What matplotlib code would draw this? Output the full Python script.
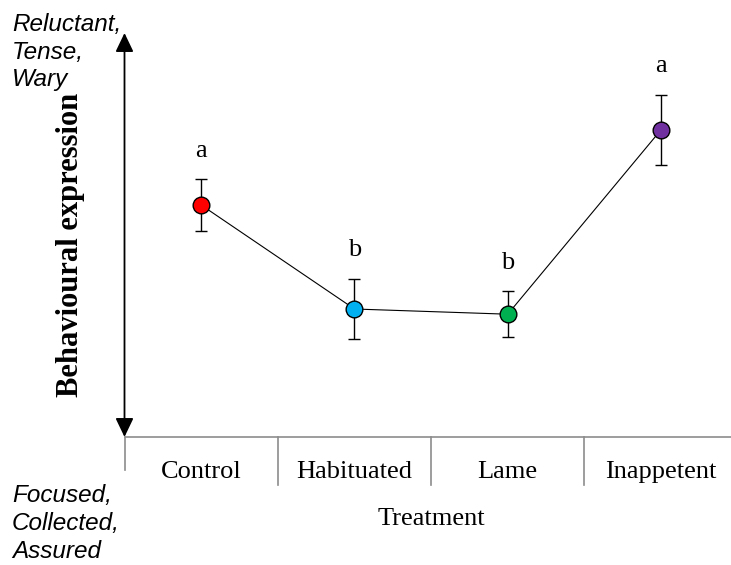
import matplotlib
matplotlib.use("Agg")
import matplotlib.pyplot as plt
import matplotlib.transforms as mtransforms

# values (arbitrary behavioural score units)
treatments = ["Control", "Habituated", "Lame", "Inappetent"]
means = [5.80, 3.20, 3.07, 7.68]
errors = [0.64, 0.76, 0.57, 0.88]
letters = ["a", "b", "b", "a"]
colors = ["#ff0000", "#00b0f0", "#00b050", "#7030a0"]

SERIF = "Liberation Serif"
SANS = "Liberation Sans"

W, H = 731, 565
fig = plt.figure(figsize=(W / 100, H / 100), dpi=100)

# axes box in pixels (from top-left of image)
left_px, bottom_px, top_px = 124.5, 437, 33
cat_w = 153.3
ax = fig.add_axes([left_px / W, 1 - bottom_px / H,
                   (W - left_px) / W, (bottom_px - top_px) / H])
ax.set_xlim(0, (W - left_px) / cat_w)
ax.set_ylim(0, 10.1)

xs = [i + 0.5 for i in range(len(treatments))]

# connecting line and error bars
ax.plot(xs, means, color="black", lw=0.8, zorder=2)
ax.errorbar(xs, means, yerr=errors, fmt="none", ecolor="black",
            elinewidth=1.0, capsize=4, capthick=1.0, zorder=3)
for x, m, c in zip(xs, means, colors):
    ax.plot(x, m, "o", ms=12, mfc=c, mec="black", mew=1.0, zorder=4)

# significance letters
for x, m, e, l in zip(xs, means, errors, letters):
    ax.annotate(l, xy=(x, m + e), xytext=(0, 16), textcoords="offset points",
                ha="center", va="baseline", fontsize=19, family=SERIF)

# spines / ticks
for s in ["top", "right", "left"]:
    ax.spines[s].set_visible(False)
ax.spines["bottom"].set_color("#8c8c8c")
ax.spines["bottom"].set_linewidth(1.2)
ax.set_xticks([])
ax.set_yticks([])

# category separators below the axis
trans = mtransforms.blended_transform_factory(ax.transData, ax.transAxes)
axh = bottom_px - top_px
for i in range(len(treatments) + 1):
    depth = (470 - bottom_px) / axh if i == 0 else (485 - bottom_px) / axh
    ax.plot([i, i], [0, -depth], color="#8c8c8c", lw=1.2,
            transform=trans, clip_on=False)

# category labels
for x, t in zip(xs, treatments):
    ax.text(x, -(478 - bottom_px) / axh, t, transform=trans, ha="center",
            va="baseline", fontsize=19, family=SERIF)

ax.text(2.0, -(525 - bottom_px) / axh, "Treatment", transform=trans,
        ha="center", va="baseline", fontsize=19, family=SERIF)

# double-headed vertical arrow
ax.annotate("", xy=(0, 1), xytext=(0, 0), xycoords="axes fraction",
            textcoords="axes fraction",
            arrowprops=dict(arrowstyle="<|-|>,head_length=1.15,head_width=0.55",
                            mutation_scale=10, color="black", lw=1.3,
                            shrinkA=0, shrinkB=0), annotation_clip=False)

# y label
fig.text(71 / W, 1 - 244.5 / H, "Behavioural expression", rotation=90,
         ha="center", va="center", fontsize=22, fontweight="bold",
         family=SERIF)

# corner descriptors
fig.text(12 / W, 1 - 52 / H, "Reluctant,\nTense,\nWary", ha="left",
         va="center", fontsize=17.5, style="italic", family=SANS,
         linespacing=1.27)
fig.text(12 / W, 1 - 523.5 / H, "Focused,\nCollected,\nAssured", ha="left",
         va="center", fontsize=17.5, style="italic", family=SANS,
         linespacing=1.27)

fig.savefig("out.png", dpi=100)
